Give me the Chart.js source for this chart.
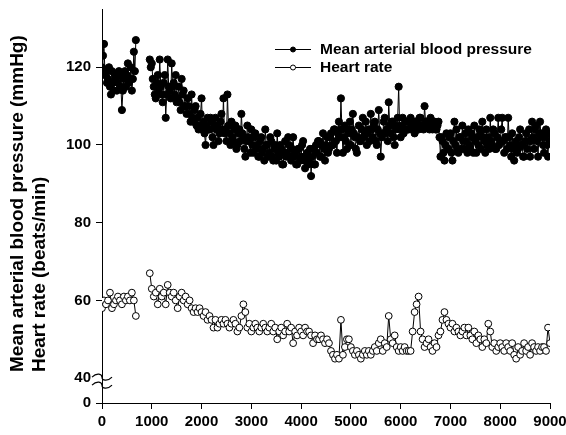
<!DOCTYPE html>
<html>
<head>
<meta charset="utf-8">
<script src="https://cdn.jsdelivr.net/npm/chart.js@4.4.1/dist/chart.umd.min.js"></script>
<style>
  html, body { margin: 0; padding: 0; background: #fff; }
  #chart { display: block; }
</style>
</head>
<body>
<canvas id="chart" width="566" height="435"></canvas>
<script>
// blood pressure sample times (s): first block, then second block
const mapTimesA = [
    0, 20, 40, 60, 80, 100, 120, 140, 160, 180, 200, 220, 240, 260, 280, 300, 320, 340,
    360, 380, 400, 420, 440, 460, 480, 500, 520, 540, 560, 580, 600, 620, 640, 660, 680
];
const mapTimesB = [
    960, 980, 1000, 1020, 1040, 1060, 1080, 1100, 1120, 1140, 1160, 1180, 1200, 1220, 1240, 1260, 1280, 1300, 1320, 1340,
    1360, 1380, 1400, 1420, 1440, 1460, 1480, 1500, 1520, 1540, 1560, 1580, 1600, 1620, 1640, 1660, 1680, 1700, 1720, 1740,
    1760, 1780, 1800, 1820, 1840, 1860, 1880, 1900, 1920, 1940, 1960, 1980, 2000, 2020, 2040, 2060, 2080, 2100, 2120, 2140,
    2160, 2180, 2200, 2220, 2240, 2260, 2280, 2300, 2320, 2340, 2360, 2380, 2400, 2420, 2440, 2460, 2480, 2500, 2520, 2540,
    2560, 2580, 2600, 2620, 2640, 2660, 2680, 2700, 2720, 2740, 2760, 2780, 2800, 2820, 2840, 2860, 2880, 2900, 2920, 2940,
    2960, 2980, 3000, 3020, 3040, 3060, 3080, 3100, 3120, 3140, 3160, 3180, 3200, 3220, 3240, 3260, 3280, 3300, 3320, 3340,
    3360, 3380, 3400, 3420, 3440, 3460, 3480, 3500, 3520, 3540, 3560, 3580, 3600, 3620, 3640, 3660, 3680, 3700, 3720, 3740,
    3760, 3780, 3800, 3820, 3840, 3860, 3880, 3900, 3920, 3940, 3960, 3980, 4000, 4020, 4040, 4060, 4080, 4100, 4120, 4140,
    4160, 4180, 4200, 4220, 4240, 4260, 4280, 4300, 4320, 4340, 4360, 4380, 4400, 4420, 4440, 4460, 4480, 4500, 4520, 4540,
    4560, 4580, 4600, 4620, 4640, 4660, 4680, 4700, 4720, 4740, 4760, 4780, 4800, 4820, 4840, 4860, 4880, 4900, 4920, 4940,
    4960, 4980, 5000, 5020, 5040, 5060, 5080, 5100, 5120, 5140, 5160, 5180, 5200, 5220, 5240, 5260, 5280, 5300, 5320, 5340,
    5360, 5380, 5400, 5420, 5440, 5460, 5480, 5500, 5520, 5540, 5560, 5580, 5600, 5620, 5640, 5660, 5680, 5700, 5720, 5740,
    5760, 5780, 5800, 5820, 5840, 5860, 5880, 5900, 5920, 5940, 5960, 5980, 6000, 6020, 6040, 6060, 6080, 6100, 6120, 6140,
    6160, 6180, 6200, 6220, 6240, 6260, 6280, 6300, 6320, 6340, 6360, 6380, 6400, 6420, 6440, 6460, 6480, 6500, 6520, 6540,
    6560, 6580, 6600, 6620, 6640, 6660, 6680, 6700, 6720, 6740, 6760, 6780, 6800, 6820, 6840, 6860, 6880, 6900, 6920, 6940,
    6960, 6980, 7000, 7020, 7040, 7060, 7080, 7100, 7120, 7140, 7160, 7180, 7200, 7220, 7240, 7260, 7280, 7300, 7320, 7340,
    7360, 7380, 7400, 7420, 7440, 7460, 7480, 7500, 7520, 7540, 7560, 7580, 7600, 7620, 7640, 7660, 7680, 7700, 7720, 7740,
    7760, 7780, 7800, 7820, 7840, 7860, 7880, 7900, 7920, 7940, 7960, 7980, 8000, 8020, 8040, 8060, 8080, 8100, 8120, 8140,
    8160, 8180, 8200, 8220, 8240, 8260, 8280, 8300, 8320, 8340, 8360, 8380, 8400, 8420, 8440, 8460, 8480, 8500, 8520, 8540,
    8560, 8580, 8600, 8620, 8640, 8660, 8680, 8700, 8720, 8740, 8760, 8780, 8800, 8820, 8840, 8860, 8880, 8900, 8920, 8940,
    8960, 8980, 9000
];

// heart rate sample times (s)
const hrTimesA = [0, 40, 80, 120, 160, 200, 240, 280, 320, 360, 400, 440, 480, 520, 560, 600, 640, 680];
const hrTimesB = [
    960, 1000, 1040, 1080, 1120, 1160, 1200, 1240, 1280, 1320,
    1360, 1400, 1440, 1480, 1520, 1560, 1600, 1640, 1680, 1720,
    1760, 1800, 1840, 1880, 1920, 1960, 2000, 2040, 2080, 2120,
    2160, 2200, 2240, 2280, 2320, 2360, 2400, 2440, 2480, 2520,
    2560, 2600, 2640, 2680, 2720, 2760, 2800, 2840, 2880, 2920,
    2960, 3000, 3040, 3080, 3120, 3160, 3200, 3240, 3280, 3320,
    3360, 3400, 3440, 3480, 3520, 3560, 3600, 3640, 3680, 3720,
    3760, 3800, 3840, 3880, 3920, 3960, 4000, 4040, 4080, 4120,
    4160, 4200, 4240, 4280, 4320, 4360, 4400, 4440, 4480, 4520,
    4560, 4600, 4640, 4680, 4720, 4760, 4800, 4840, 4880, 4920,
    4960, 5000, 5040, 5080, 5120, 5160, 5200, 5240, 5280, 5320,
    5360, 5400, 5440, 5480, 5520, 5560, 5600, 5640, 5680, 5720,
    5760, 5800, 5840, 5880, 5920, 5960, 6000, 6040, 6080, 6120,
    6160, 6200, 6240, 6280, 6320, 6360, 6400, 6440, 6480, 6520,
    6560, 6600, 6640, 6680, 6720, 6760, 6800, 6840, 6880, 6920,
    6960, 7000, 7040, 7080, 7120, 7160, 7200, 7240, 7280, 7320,
    7360, 7400, 7440, 7480, 7520, 7560, 7600, 7640, 7680, 7720,
    7760, 7800, 7840, 7880, 7920, 7960, 8000, 8040, 8080, 8120,
    8160, 8200, 8240, 8280, 8320, 8360, 8400, 8440, 8480, 8520,
    8560, 8600, 8640, 8680, 8720, 8760, 8800, 8840, 8880, 8920,
    8960, 9000
];
const gapTime = 820;   // no recording between the two blocks

// mean arterial blood pressure (mmHg)
const mapA = [
    120, 123, 126, 118, 119, 116, 117, 120, 115, 113, 119, 116, 114, 118, 117, 114, 116, 119,
    118, 115, 109, 114, 117, 119, 115, 118, 121, 116, 117, 120, 114, 117, 124, 119, 127
];
const mapB = [
    122, 120, 121, 117, 115, 113, 112, 116, 118, 114, 122, 115, 113, 111, 116, 118, 107, 113, 122, 115,
    114, 112, 121, 115, 116, 113, 118, 111, 112, 115, 111, 109, 117, 113, 114, 110, 110, 108, 112, 110,
    108, 106, 113, 107, 106, 109, 110, 105, 107, 104, 105, 108, 112, 104, 106, 103, 100, 105, 107, 104,
    104, 107, 106, 102, 100, 105, 107, 104, 105, 101, 103, 106, 108, 104, 112, 103, 104, 101, 113, 105,
    103, 100, 106, 102, 101, 104, 105, 99, 100, 103, 104, 101, 108, 103, 102, 99, 97, 101, 105, 102,
    101, 98, 104, 100, 98, 102, 103, 99, 100, 97, 97, 101, 102, 98, 99, 96, 104, 100, 100, 97,
    98, 102, 101, 97, 96, 99, 100, 96, 103, 98, 97, 100, 99, 95, 95, 98, 101, 97, 98, 102,
    100, 97, 96, 99, 102, 97, 98, 95, 95, 99, 99, 96, 97, 100, 101, 96, 94, 97, 98, 95,
    96, 99, 92, 97, 99, 95, 95, 100, 98, 101, 101, 97, 97, 100, 103, 99, 96, 100, 102, 98,
    99, 102, 103, 100, 100, 104, 104, 101, 98, 103, 106, 102, 112, 104, 98, 102, 105, 101, 99, 104,
    103, 106, 100, 104, 108, 103, 102, 99, 98, 102, 105, 101, 101, 104, 107, 102, 103, 106, 100, 103,
    104, 101, 108, 104, 102, 105, 106, 101, 100, 104, 109, 103, 97, 102, 103, 106, 107, 103, 104, 101,
    111, 105, 103, 106, 106, 102, 100, 104, 105, 107, 115, 104, 102, 105, 107, 103, 104, 106, 106, 104,
    104, 106, 107, 105, 105, 104, 103, 106, 106, 105, 104, 107, 107, 105, 105, 104, 110, 106, 106, 105,
    105, 104, 107, 105, 104, 106, 106, 104, 104, 105, 106, 102, 97, 102, 101, 98, 96, 100, 103, 99,
    99, 102, 103, 98, 96, 101, 106, 100, 104, 99, 98, 102, 102, 99, 105, 101, 99, 103, 101, 98,
    104, 100, 99, 103, 102, 98, 105, 101, 98, 102, 100, 104, 103, 99, 106, 102, 101, 98, 104, 100,
    102, 99, 107, 101, 100, 104, 103, 99, 99, 102, 107, 100, 101, 104, 107, 101, 98, 102, 102, 99,
    107, 102, 100, 97, 103, 99, 96, 100, 101, 98, 99, 102, 104, 100, 100, 97, 97, 101, 103, 99,
    101, 104, 97, 101, 106, 102, 99, 104, 105, 101, 97, 103, 106, 102, 103, 100, 98, 102, 104, 100,
    97, 103, 101
];

// heart rate (beats/min)
const hrA = [58, 60, 59, 60, 62, 58, 59, 60, 61, 60, 59, 61, 60, 61, 60, 62, 60, 56];
const hrB = [
    67, 63, 61, 62, 59, 63, 61, 62, 59, 64,
    62, 61, 62, 60, 58, 61, 62, 60, 61, 59,
    60, 58, 57, 58, 57, 58, 57, 56, 57, 55,
    56, 55, 53, 55, 53, 54, 55, 54, 55, 54,
    53, 54, 55, 54, 52, 53, 56, 59, 57, 53,
    54, 52, 53, 54, 53, 52, 53, 54, 53, 52,
    53, 54, 52, 53, 50, 52, 53, 51, 52, 54,
    52, 53, 49, 52, 51, 53, 52, 51, 53, 52,
    52, 51, 49, 51, 50, 50, 51, 50, 49, 50,
    49, 47, 46, 45, 46, 45, 55, 46, 48, 50,
    50, 48, 47, 46, 47, 46, 45, 46, 47, 46,
    47, 46, 47, 48, 47, 49, 50, 47, 49, 48,
    56, 50, 49, 51, 48, 47, 48, 47, 48, 47,
    47, 47, 52, 57, 59, 61, 52, 50, 48, 49,
    50, 48, 47, 49, 48, 51, 52, 55, 57, 55,
    54, 53, 54, 52, 53, 52, 51, 52, 53, 51,
    53, 51, 50, 52, 49, 51, 50, 48, 50, 49,
    54, 52, 48, 49, 47, 48, 49, 48, 47, 49,
    48, 47, 49, 46, 45, 48, 46, 47, 49, 47,
    48, 46, 49, 48, 47, 48, 47, 48, 48, 47,
    53, 49
];

// y axis ticks; the 0 tick sits below an axis break
const yTicks = [0, 40, 60, 80, 100, 120];
const yZero = 33.6;   // where "0" is placed on the broken axis
const yTop = 135;

const legendLabels = ['Mean arterial blood pressure', 'Heart rate'];
const yTitleLines = ['Mean arterial blood pressure (mmHg)', 'Heart rate (beats/min)'];

const FONT = '"Liberation Sans", Arial, sans-serif';

function buildPoints(timesA, a, timesB, b) {
    const pts = timesA.map((t, i) => ({ x: t, y: a[i] }));
    pts.push({ x: gapTime, y: null });
    timesB.forEach((t, i) => pts.push({ x: t, y: b[i] }));
    return pts;
}

// axis break marks, y-axis title and legend
const decorations = {
    id: 'decorations',
    afterDraw(chart) {
        const ctx = chart.ctx;
        const area = chart.chartArea;
        const y = chart.scales.y;
        const x0 = area.left;

        // break marks
        const y40 = y.getPixelForValue(40);
        ctx.save();
        ctx.strokeStyle = '#000';
        ctx.lineWidth = 1.2;
        [y40 - 1, y40 + 7].forEach(yy => {
            ctx.beginPath();
            ctx.moveTo(x0 - 10, yy);
            ctx.bezierCurveTo(x0 - 5, yy - 5, x0, yy - 3, x0, yy);
            ctx.bezierCurveTo(x0, yy + 3, x0 + 5, yy + 5, x0 + 10, yy);
            ctx.stroke();
        });
        ctx.restore();

        // y title
        ctx.save();
        ctx.fillStyle = '#000';
        ctx.font = 'bold 19px ' + FONT;
        ctx.textAlign = 'left';
        ctx.textBaseline = 'middle';
        [17.5, 39.5].forEach((cx, i) => {
            ctx.save();
            ctx.translate(cx, 372);
            ctx.rotate(-Math.PI / 2);
            ctx.fillText(yTitleLines[i], 0, 0);
            ctx.restore();
        });
        ctx.restore();

        // legend
        ctx.save();
        chart.data.datasets.forEach((ds, i) => {
            const ly = 49.5 + i * 18;
            ctx.strokeStyle = '#000';
            ctx.lineWidth = 1;
            ctx.beginPath();
            ctx.moveTo(275, ly);
            ctx.lineTo(311, ly);
            ctx.stroke();
            ctx.beginPath();
            ctx.arc(293, ly, 2.5, 0, Math.PI * 2);
            ctx.fillStyle = ds.pointBackgroundColor;
            ctx.fill();
            ctx.stroke();
            ctx.fillStyle = '#000';
            ctx.font = 'bold 15.5px ' + FONT;
            ctx.textAlign = 'left';
            ctx.textBaseline = 'middle';
            ctx.fillText(legendLabels[i], 320, ly);
        });
        ctx.restore();
    }
};

const axisCommon = {
    grid: {
        display: true,
        drawOnChartArea: false,
        drawTicks: true,
        tickLength: 6,
        color: '#000'
    },
    border: { display: true, color: '#000', width: 1 }
};

new Chart(document.getElementById('chart'), {
    type: 'line',
    data: {
        datasets: [
            {
                label: legendLabels[0],
                data: buildPoints(mapTimesA, mapA, mapTimesB, mapB),
                borderColor: '#000',
                borderWidth: 1,
                pointRadius: 3.6,
                pointBackgroundColor: '#000',
                pointBorderColor: '#000',
                pointBorderWidth: 1,
                spanGaps: false
            },
            {
                label: legendLabels[1],
                data: buildPoints(hrTimesA, hrA, hrTimesB, hrB),
                borderColor: '#000',
                borderWidth: 1,
                pointRadius: 3.4,
                pointBackgroundColor: '#fff',
                pointBorderColor: '#000',
                pointBorderWidth: 1,
                spanGaps: false
            }
        ]
    },
    options: {
        responsive: false,
        devicePixelRatio: 1,
        animation: false,
        layout: { padding: { top: 9, right: 16, left: 0, bottom: 0 } },
        plugins: {
            legend: { display: false },
            tooltip: { enabled: false }
        },
        scales: {
            x: {
                ...axisCommon,
                type: 'linear',
                min: 0,
                max: 9000,
                ticks: {
                    stepSize: 1000,
                    color: '#000',
                    font: { family: FONT, size: 15, weight: 'bold' },
                    padding: 4,
                    maxRotation: 0,
                    callback: v => String(v)
                },
                afterFit: s => {
                    s.height = 32;
                    s.paddingLeft = 0;
                    s.paddingRight = 0;
                }
            },
            y: {
                ...axisCommon,
                grid: {
                    ...axisCommon.grid,
                    tickColor: c => (c.tick && c.tick.value === 40 ? 'rgba(0,0,0,0)' : '#000')
                },
                type: 'linear',
                min: yZero,
                max: yTop,
                afterBuildTicks: s => {
                    s.ticks = yTicks.map(v => ({ value: v === 0 ? yZero : v }));
                },
                ticks: {
                    color: '#000',
                    font: { family: FONT, size: 15, weight: 'bold' },
                    padding: 5,
                    callback: v => (v === yZero ? '0' : String(v))
                },
                afterFit: s => {
                    s.width = 102;
                    s.paddingTop = 0;
                    s.paddingBottom = 0;
                }
            }
        }
    },
    plugins: [decorations]
});
</script>
</body>
</html>
